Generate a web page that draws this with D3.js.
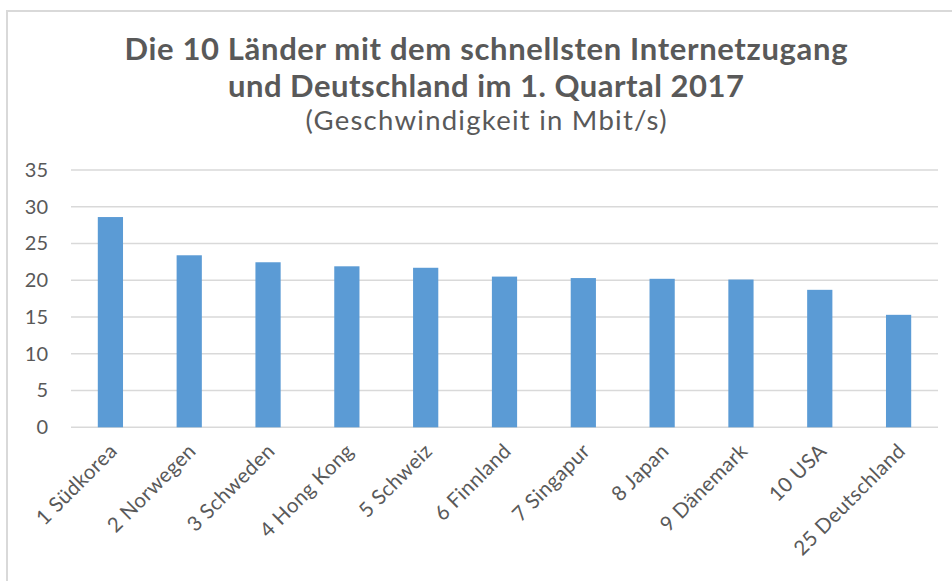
<!DOCTYPE html>
<html><head><meta charset="utf-8">
<script src="https://cdn.jsdelivr.net/npm/d3@7"></script>
<style>body{margin:0;background:#fff}svg{display:block}</style>
</head><body>
<script>
const categories = ["1 Südkorea","2 Norwegen","3 Schweden","4 Hong Kong","5 Schweiz","6 Finnland","7 Singapur","8 Japan","9 Dänemark","10 USA","25 Deutschland"];
const speeds = [28.6, 23.4, 22.45, 21.9, 21.7, 20.5, 20.3, 20.2, 20.1, 18.7, 15.3];
const yTicks = [0,5,10,15,20,25,30,35];
const titleLines = ["Die 10 Länder mit dem schnellsten Internetzugang","und Deutschland im 1. Quartal 2017"];
const subtitle = "(Geschwindigkeit in Mbit/s)";

const W = 952, H = 581;
const font = "Lato, 'Open Sans', sans-serif";
const svg = d3.select("body").append("svg").attr("width", W).attr("height", H);

svg.append("rect").attr("x", 7).attr("y", 11).attr("width", 1000).attr("height", 1000)
  .attr("fill", "none").attr("stroke", "#d9d9d9").attr("stroke-width", 2);

const x = d3.scaleBand().domain(categories).range([71, 938]).paddingInner(0.68).paddingOuter(0.34);
const y = d3.scaleLinear().domain([0, 35]).range([427.3, 170]);

const grid = svg.append("g");
grid.selectAll("line").data(yTicks).join("line")
  .attr("x1", 71).attr("x2", 938)
  .attr("y1", d => y(d)).attr("y2", d => y(d))
  .attr("stroke", "#d9d9d9").attr("stroke-width", 1.5);

const yAxis = svg.append("g").attr("transform", "translate(71,0)")
  .call(d3.axisLeft(y).tickValues(yTicks).tickSize(0).tickPadding(23));
yAxis.select(".domain").remove();
yAxis.selectAll("text").attr("font-family", font).attr("font-size", 20).attr("fill", "#595959");

svg.append("g").selectAll("rect").data(speeds).join("rect")
  .attr("x", (d, i) => x(categories[i]))
  .attr("width", x.bandwidth())
  .attr("y", d => y(d))
  .attr("height", d => y(0) - y(d))
  .attr("fill", "#5b9bd5");

const xAxis = svg.append("g").attr("transform", `translate(0,${y(0)})`)
  .call(d3.axisBottom(x).tickSize(0).tickPadding(0));
xAxis.select(".domain").remove();
xAxis.selectAll("text")
  .attr("font-family", font).attr("font-size", 20.5).attr("fill", "#595959")
  .attr("letter-spacing", 0.4)
  .attr("text-anchor", "end").attr("dy", null)
  .attr("transform", "translate(8,25) rotate(-45)");

const titleLen = [723, 516];
const t = svg.append("g").attr("font-family", font).attr("fill", "#595959").attr("text-anchor", "middle");
t.selectAll("text.title").data(titleLines).join("text").attr("class", "title")
  .attr("x", 486).attr("y", (d, i) => 60 + i * 37)
  .attr("font-size", 31).attr("font-weight", "bold")
  .attr("textLength", (d, i) => titleLen[i]).attr("lengthAdjust", "spacing")
  .text(d => d);
t.append("text").attr("x", 486).attr("y", 130).attr("font-size", 27.5)
  .attr("textLength", 361).attr("lengthAdjust", "spacing").text(subtitle);
</script>
</body></html>
